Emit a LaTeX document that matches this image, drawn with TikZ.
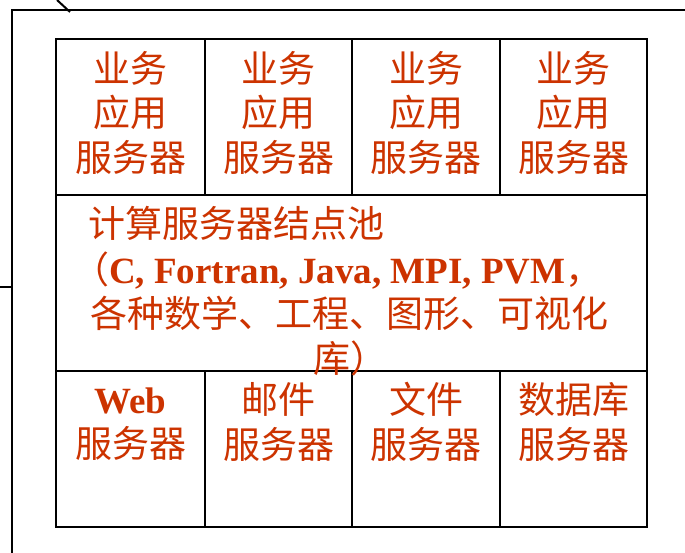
\documentclass[tikz,border=0pt]{standalone}
\usepackage{fontspec}
\setmainfont{Liberation Serif}
\newfontfamily\cjk{Noto Sans CJK SC}
\usepackage{xcolor}
\usetikzlibrary{positioning,calc}
\definecolor{textred}{RGB}{204,51,0}
\tikzset{
  outerline/.style={line width=2pt},
  gridline/.style={line width=2.2pt},
  celltext/.style={text=textred, font=\cjk\fontsize{37}{44.5}\selectfont, align=center, inner sep=0pt},
}

\begin{document}
\begin{tikzpicture}[x=1pt,y=-1pt]
    \useasboundingbox (0,0) rectangle (685,553);

    % Outer frame
    \draw[outerline] (12,553) -- (12,10) -- (685,10);
    \draw[outerline] (57,0) -- (70,12);
    \draw[outerline] (0,287) -- (12,287);

    % Server grid
    \draw[gridline] (56,39) rectangle (647,527);
    \draw[gridline] (56,195) -- (647,195) (56,371) -- (647,371);
    \foreach \x in {205,352,500}
        \draw[gridline] (\x,39) -- (\x,195) (\x,371) -- (\x,527);

    % Application servers
    \foreach \x/\n in {130.5/1,278.5/2,426/3,573.5/4}
        \node[celltext] (app\n) at (\x,112.5) {业务\\应用\\服务器};

    % Compute node pool
    \node[celltext, anchor=west] (pooltitle) at (88,223) {计算服务器结点池};
    \node[celltext, anchor=west] (poollang) at (72,271) {（{\rmfamily\bfseries C, Fortran, Java, MPI, PVM}，};
    \node[celltext, anchor=west] (poollib) at (90,313) {各种数学、工程、图形、可视化};
    \node[celltext, anchor=west] (poolend) at (313,358) {库）};

    % Other servers
    \node[celltext] (web) at (130.5,422) {{\rmfamily\bfseries Web}\vphantom{服}\\服务器};
    \node[celltext] (mail) at (278.5,422) {邮件\\服务器};
    \node[celltext] (file) at (426,422) {文件\\服务器};
    \node[celltext] (db) at (573.5,422) {数据库\\服务器};
\end{tikzpicture}
\end{document}
